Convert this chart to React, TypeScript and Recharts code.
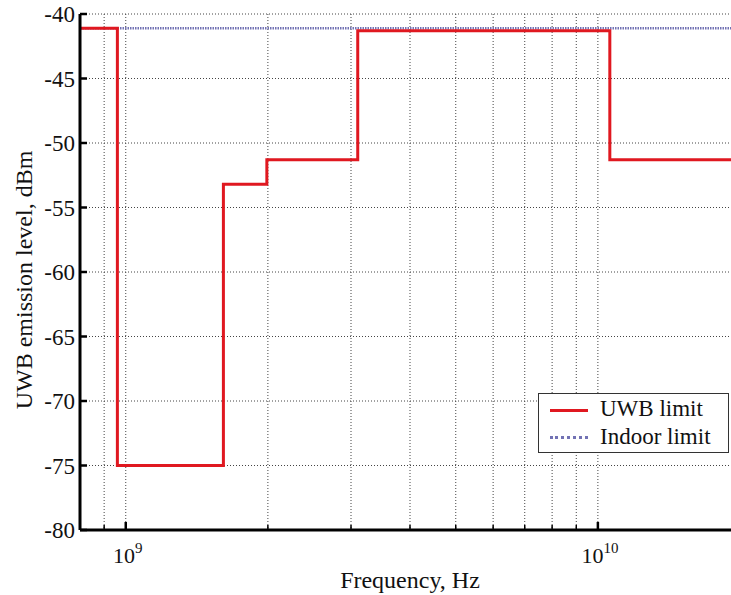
import React from 'react';
import { LineChart, Line, XAxis, YAxis, CartesianGrid } from 'recharts';

// FCC indoor UWB emission mask (dBm vs Hz)
const uwbFreq = [8e8, 0.96e9, 1.61e9, 1.99e9, 3.1e9, 10.6e9, 2e10];
const uwbLevel = [-41.1, -75, -53.2, -51.3, -41.3, -51.3, -51.3];

const indoorFreq = [8e8, 2e10];
const indoorLevel = [-41.1, -41.1];

const freqTicks = [9e8, 1e9, 2e9, 3e9, 4e9, 5e9, 6e9, 7e9, 8e9, 9e9, 1e10, 2e10];
const decadeTicks = [1e9, 1e10];
const levelTicks = [-80, -75, -70, -65, -60, -55, -50, -45, -40];

const uwbData = uwbFreq.map((f, i) => ({ f, v: uwbLevel[i] }));
const indoorData = indoorFreq.map((f, i) => ({ f, v: indoorLevel[i] }));

const FONT = 'Liberation Serif, Times New Roman, Times, serif';

// bottom axis: inner tick marks + 10^n labels
const BottomTick = (props: any) => {
  const { x, y, payload } = props;
  const major = decadeTicks.includes(payload.value);
  const exp = Math.round(Math.log10(payload.value));
  return (
    <g>
      <line x1={x} x2={x} y1={y} y2={y - (major ? 8 : 5)} stroke="#000" strokeWidth={major ? 2.5 : 1.5} />
      {major && (
        <text x={x + 2} y={y + 33} textAnchor="middle" style={{ fontFamily: FONT }} fontSize={22} fill="#111">
          <tspan>10</tspan>
          <tspan dy={-10} fontSize={15}>{exp}</tspan>
        </text>
      )}
    </g>
  );
};

const TopTick = (props: any) => {
  const { x, y, payload } = props;
  const major = decadeTicks.includes(payload.value);
  return <line x1={x} x2={x} y1={y} y2={y + (major ? 8 : 5)} stroke="#000" strokeWidth={major ? 2.5 : 1.5} />;
};

const LeftTick = (props: any) => {
  const { x, y, payload } = props;
  return (
    <g>
      <line x1={x} x2={x + 7} y1={y} y2={y} stroke="#000" strokeWidth={2.5} />
      <text x={x - 5} y={y} dy={8} textAnchor="end" style={{ fontFamily: FONT }} fontSize={23} fill="#111">
        {payload.value}
      </text>
    </g>
  );
};

const YTitle = (props: any) => {
  const { viewBox } = props;
  const cx = 24;
  const cy = viewBox.y + viewBox.height / 2 + 8;
  return (
    <text
      x={cx}
      y={cy}
      transform={`rotate(-90, ${cx}, ${cy})`}
      textAnchor="middle"
      dominantBaseline="central"
      style={{ fontFamily: FONT }}
      fontSize={24}
      fill="#111"
    >
      UWB emission level, dBm
    </text>
  );
};

export default function App() {
  return (
    <div style={{ position: 'absolute', left: 0, top: 0, width: 731, height: 595, overflow: 'hidden', background: '#fff' }}>
      <LineChart width={745} height={595} margin={{ top: 14, right: 5, bottom: 0, left: 0 }}>
        <CartesianGrid stroke="#444" strokeDasharray="1 2" strokeWidth={1} />
        <XAxis
          dataKey="f"
          type="number"
          scale="log"
          domain={[8e8, 2e10]}
          ticks={freqTicks}
          interval={0}
          height={65}
          tickSize={0}
          tickMargin={0}
          tick={<BottomTick />}
          axisLine={{ stroke: '#000', strokeWidth: 3 }}
          label={{ value: 'Frequency, Hz', position: 'insideBottom', offset: 7, style: { fontFamily: FONT }, fontSize: 24, fill: '#111' }}
        />
        <XAxis
          xAxisId="top"
          orientation="top"
          dataKey="f"
          type="number"
          scale="log"
          domain={[8e8, 2e10]}
          ticks={freqTicks}
          interval={0}
          height={0}
          tickSize={0}
          tickMargin={0}
          tick={<TopTick />}
          axisLine={{ stroke: '#000', strokeWidth: 3 }}
        />
        <YAxis
          type="number"
          domain={[-80, -40]}
          ticks={levelTicks}
          interval={0}
          width={80}
          tickSize={0}
          tickMargin={0}
          tick={<LeftTick />}
          axisLine={{ stroke: '#000', strokeWidth: 3 }}
          label={<YTitle />}
        />
        <Line
          data={indoorData}
          dataKey="v"
          type="linear"
          stroke="#7272b4"
          strokeWidth={2.5}
          strokeDasharray="1.5 1"
          dot={false}
          isAnimationActive={false}
        />
        <Line
          data={uwbData}
          dataKey="v"
          type="stepAfter"
          stroke="#e01820"
          strokeWidth={3}
          dot={false}
          isAnimationActive={false}
        />
      </LineChart>

      {/* legend box */}
      <div
        style={{
          position: 'absolute',
          left: 538,
          top: 393,
          width: 191,
          height: 60,
          border: '1.5px solid #333',
          background: '#fff',
          fontFamily: FONT,
          fontSize: 23,
          color: '#111',
          boxSizing: 'border-box',
        }}
      >
        <div style={{ position: 'absolute', left: 11, top: 15, width: 38, borderTop: '3px solid #e01820' }} />
        <div style={{ position: 'absolute', left: 61, top: 1, lineHeight: '28px' }}>UWB limit</div>
        <div style={{ position: 'absolute', left: 11, top: 42, width: 38, borderTop: '3px dotted #7272b4' }} />
        <div style={{ position: 'absolute', left: 61, top: 29, lineHeight: '28px' }}>Indoor limit</div>
      </div>
    </div>
  );
}
